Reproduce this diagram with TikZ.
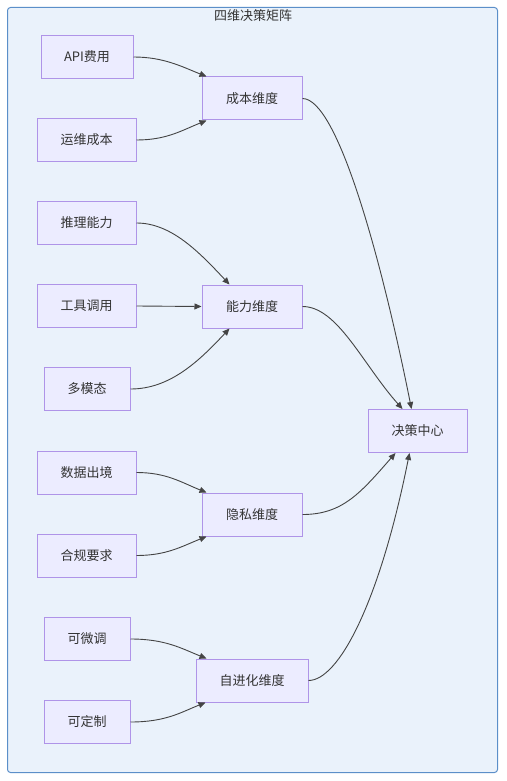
\documentclass[tikz,border=0pt]{standalone}
\usepackage{fontspec}
\setmainfont{Noto Sans CJK SC}
\usetikzlibrary{arrows.meta}
\definecolor{nodefill}{HTML}{ECECFF}
\definecolor{nodeborder}{HTML}{AF94E8}
\definecolor{clusterfill}{HTML}{EAF2FB}
\definecolor{clusterborder}{HTML}{5B8FC9}
\definecolor{edgec}{HTML}{444444}
\definecolor{textc}{HTML}{333333}
\begin{document}
\begin{tikzpicture}[x=1pt,y=-1pt,
  box/.style={draw=nodeborder, fill=nodefill, line width=1pt, minimum height=43pt, inner sep=0pt, font=\fontsize{13}{15}\selectfont, text=textc},
  edge/.style={draw=edgec, line width=0.9pt, -{Triangle[length=7pt,width=6pt]}}]
\useasboundingbox (0,0) rectangle (506,781);
\draw[draw=clusterborder, fill=clusterfill, line width=1pt, rounded corners=3pt] (7.5,7.5) rectangle (497.5,772.5);
\node[font=\fontsize{13}{15}\selectfont, text=textc] (title) at (253,16) {四维决策矩阵};

\node[box, minimum width=92pt] (api) at (87,57) {API费用};
\node[box, minimum width=99pt] (ops) at (86.5,140) {运维成本};
\node[box, minimum width=100pt] (cost) at (252,98.5) {成本维度};
\node[box, minimum width=99pt] (reason) at (86.5,223) {推理能力};
\node[box, minimum width=99pt] (tool) at (86.5,306) {工具调用};
\node[box, minimum width=86pt] (multi) at (87,389) {多模态};
\node[box, minimum width=100pt] (cap) at (252,306.5) {能力维度};
\node[box, minimum width=99pt] (data) at (86.5,472.5) {数据出境};
\node[box, minimum width=99pt] (comp) at (86.5,555.5) {合规要求};
\node[box, minimum width=100pt] (priv) at (252,514.5) {隐私维度};
\node[box, minimum width=86pt] (fine) at (87,639) {可微调};
\node[box, minimum width=86pt] (custom) at (87,722) {可定制};
\node[box, minimum width=112pt] (self) at (252,680.5) {自进化维度};
\node[box, minimum width=99pt] (dec) at (417.5,431) {决策中心};

\draw[edge] (api.east) .. controls +(30,0) and +(-25,-10) .. ([xshift=5pt]cost.north west);
\draw[edge] (ops.east) .. controls +(30,0) and +(-25,10) .. ([xshift=5pt]cost.south west);
\draw[edge] (reason.east) .. controls +(35,0) and +(-30,-32) .. ([xshift=28pt]cap.north west);
\draw[edge] (tool.east) -- (cap.west);
\draw[edge] (multi.east) .. controls +(40,0) and +(-30,32) .. ([xshift=28pt]cap.south west);
\draw[edge] (data.east) .. controls +(30,0) and +(-25,-10) .. ([xshift=5pt]priv.north west);
\draw[edge] (comp.east) .. controls +(30,0) and +(-25,10) .. ([xshift=5pt]priv.south west);
\draw[edge] (fine.east) .. controls +(35,0) and +(-25,-10) .. ([xshift=11pt]self.north west);
\draw[edge] (custom.east) .. controls +(35,0) and +(-25,10) .. ([xshift=10pt]self.south west);

\draw[edge] (cost.east) .. controls +(35,0) and +(-30,-150) .. ([xshift=44pt]dec.north west);
\draw[edge] (cap.east) .. controls +(35,0) and +(-40,-45) .. ([xshift=35pt]dec.north west);
\draw[edge] (priv.east) .. controls +(40,0) and +(-35,40) .. ([xshift=28pt]dec.south west);
\draw[edge] (self.east) .. controls +(30,0) and +(-30,150) .. ([xshift=42pt]dec.south west);
\end{tikzpicture}
\end{document}
